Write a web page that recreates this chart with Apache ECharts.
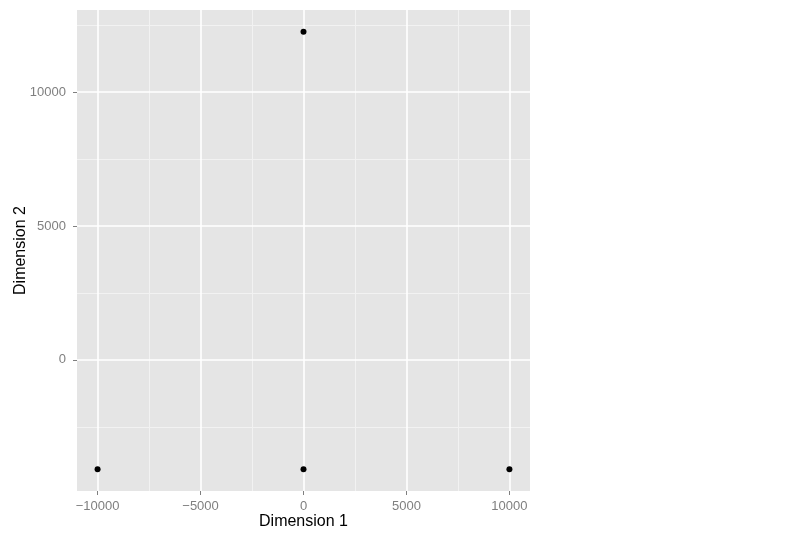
<!DOCTYPE html>
<html>
<head>
<meta charset="utf-8">
<script src="https://cdn.jsdelivr.net/npm/echarts@6/dist/echarts.min.js"></script>
<style>
  html, body { margin: 0; padding: 0; background: #fff; }
  #viz { width: 800px; height: 540px; }
</style>
</head>
<body>
<div id="viz"></div>
<script>
// points
var dim1 = [-10000, 0, 10000, 0];
var dim2 = [-4082, -4082, -4082, 12247];

// axis ticks
var xMajor = [-10000, -5000, 0, 5000, 10000];
var xMinor = [-7500, -2500, 2500, 7500];
var yMajor = [0, 5000, 10000];
var yMinor = [-2500, 2500, 7500, 12500];

function plotrun(){
  var dom = document.getElementById("viz");
  var myChart = echarts.init(dom);

  var points = [];
  for (var i = 0; i < dim1.length; i++){
    points.push([dim1[i], dim2[i]]);
  }

  // grid lines as mark lines so they sit on the tick values
  var minorLines = [], majorLines = [];
  for (i in xMinor) minorLines.push({xAxis: xMinor[i]});
  for (i in yMinor) minorLines.push({yAxis: yMinor[i]});
  for (i in xMajor) majorLines.push({xAxis: xMajor[i]});
  for (i in yMajor) majorLines.push({yAxis: yMajor[i]});

  var font = 'Liberation Sans, Arial, sans-serif';
  var plain = function(v){ return String(v).replace('-', '\u2212'); };

  var option = {
    animation: false,
    grid: {
      left: 77, right: 270, top: 10, bottom: 49,
      containLabel: false, outerBoundsMode: 'none',
      show: true, backgroundColor: '#E5E5E5', borderWidth: 0
    },
    xAxis: {
      type: 'value',
      min: -11000, max: 11000,
      name: 'Dimension 1',
      nameLocation: 'middle',
      nameGap: 23,
      nameMoveOverlap: false,
      nameTextStyle: { color: '#000', fontSize: 16, fontFamily: font },
      axisLine: { show: true, onZero: false, lineStyle: { color: 'rgba(0,0,0,0)' } },
      axisTick: { show: true, length: 4, lineStyle: { color: '#7F7F7F', width: 1 }, customValues: xMajor },
      axisLabel: { color: '#7F7F7F', fontSize: 13, fontFamily: font, margin: 9, customValues: xMajor,
        formatter: plain },
      splitLine: { show: false }
    },
    yAxis: {
      type: 'value',
      min: -4898, max: 13063,
      name: 'Dimension 2',
      nameLocation: 'middle',
      nameGap: 48,
      nameMoveOverlap: false,
      nameTextStyle: { color: '#000', fontSize: 16, fontFamily: font },
      axisLine: { show: true, onZero: false, lineStyle: { color: 'rgba(0,0,0,0)' } },
      axisTick: { show: true, length: 4, lineStyle: { color: '#7F7F7F', width: 1 }, customValues: yMajor },
      axisLabel: { color: '#7F7F7F', fontSize: 13, fontFamily: font, margin: 11, customValues: yMajor,
        formatter: plain },
      splitLine: { show: false }
    },
    series: [{
      type: 'line',
      data: [],
      silent: true,
      markLine: {
        silent: true, symbol: 'none', animation: false,
        label: { show: false },
        lineStyle: { color: '#F2F2F2', width: 1, type: 'solid' },
        emphasis: { disabled: true },
        data: minorLines
      }
    }, {
      type: 'line',
      data: [],
      silent: true,
      markLine: {
        silent: true, symbol: 'none', animation: false,
        label: { show: false },
        lineStyle: { color: '#FFFFFF', width: 1.6, type: 'solid' },
        emphasis: { disabled: true },
        data: majorLines
      }
    }, {
      name: 'points',
      type: 'scatter',
      symbol: 'circle',
      symbolSize: 6,
      itemStyle: { color: '#000', opacity: 1 },
      z: 10,
      data: points
    }]
  };
  myChart.setOption(option, true);
}

plotrun();
</script>
</body>
</html>
